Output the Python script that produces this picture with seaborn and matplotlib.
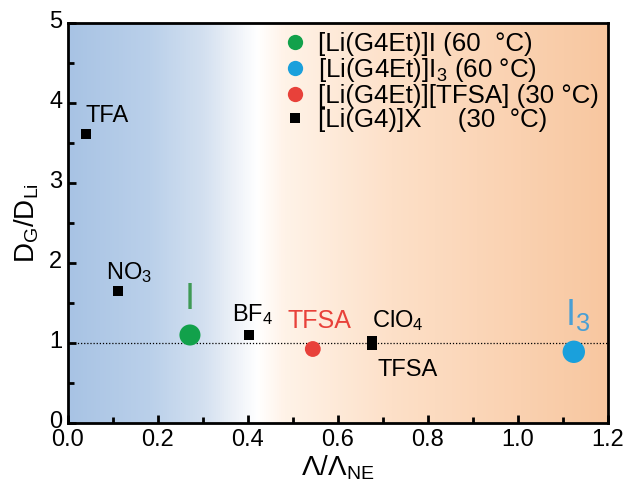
import numpy as np
import pandas as pd
import matplotlib
matplotlib.use("Agg")
import matplotlib.pyplot as plt
import matplotlib.transforms as mtransforms
from matplotlib.colors import LinearSegmentedColormap
from matplotlib.lines import Line2D
import seaborn as sns

# ---- data ----
g4_labels = ["TFA", "NO3", "BF4", "ClO4", "TFSA"]
g4_x = [0.040, 0.111, 0.402, 0.676, 0.676]
g4_y = [3.61, 1.65, 1.10, 1.02, 0.98]

g4et_i_x = [0.271]
g4et_i_y = [1.10]
g4et_i3_x = [1.124]
g4et_i3_y = [0.89]
g4et_tfsa_x = [0.544]
g4et_tfsa_y = [0.925]

legend_labels = ["[Li(G4Et)]I (60  °C)",
                 "[Li(G4Et)]I$_3$ (60 °C)",
                 "[Li(G4Et)][TFSA] (30 °C)",
                 "[Li(G4)]X     (30  °C)"]
xticks = [0.0, 0.2, 0.4, 0.6, 0.8, 1.0, 1.2]
yticks = [0, 1, 2, 3, 4, 5]

sns.set_theme(style="ticks")
plt.rcParams['font.family'] = ['Liberation Sans', 'DejaVu Sans']
plt.rcParams['mathtext.fontset'] = 'custom'
plt.rcParams['mathtext.rm'] = 'Liberation Sans'
plt.rcParams['mathtext.it'] = 'Liberation Sans:italic'
plt.rcParams['mathtext.default'] = 'regular'
plt.rcParams['text.color'] = 'black'
plt.rcParams['axes.labelcolor'] = 'black'
plt.rcParams['xtick.color'] = 'black'
plt.rcParams['ytick.color'] = 'black'

fig = plt.figure(figsize=(6.36, 4.88), dpi=100)
ax = fig.add_axes([68/636, 65/488, 540/636, 400/488])

# background gradient
cmap = LinearSegmentedColormap.from_list("bg", [
    (0.00, "#a8c3e4"), (0.15, "#bad0ea"), (0.25, "#d3e0f0"),
    (0.31, "#eef2f8"), (0.35, "#ffffff"), (0.40, "#fff3e8"),
    (0.60, "#fde0c8"), (1.00, "#f8c7a0")])
grad = np.linspace(0, 1, 512).reshape(1, -1)
ax.imshow(grad, extent=[0, 1.2, 0, 5], aspect='auto', cmap=cmap, zorder=0)

ax.axhline(1.0, color='black', lw=0.9, ls=(0, (1, 1.5)), zorder=1)

sns.scatterplot(x=g4et_i_x, y=g4et_i_y, ax=ax, color="#12a14b", s=230,
                marker='o', edgecolor='none', zorder=3)
sns.scatterplot(x=g4et_i3_x, y=g4et_i3_y, ax=ax, color="#1aa0dc", s=260,
                marker='o', edgecolor='none', zorder=3)
sns.scatterplot(x=g4et_tfsa_x, y=g4et_tfsa_y, ax=ax, color="#e8413a", s=130,
                marker='o', edgecolor='none', zorder=3)
sns.scatterplot(x=g4_x, y=g4_y, ax=ax, color="black", s=50,
                marker='s', edgecolor='none', zorder=3)

# annotations
fs = 17
ax.text(0.040, 3.70, "TFA", fontsize=fs, ha='left', va='bottom')
ax.text(0.085, 1.72, "NO$_3$", fontsize=fs, ha='left', va='bottom')
ax.text(0.365, 1.20, "BF$_4$", fontsize=fs, ha='left', va='bottom')
ax.text(0.675, 1.12, "ClO$_4$", fontsize=fs, ha='left', va='bottom')
ax.text(0.688, 0.52, "TFSA", fontsize=fs, ha='left', va='bottom')
ax.text(0.488, 1.12, "TFSA", fontsize=18, ha='left', va='bottom', color="#e8413a")
ax.text(0.271, 1.33, "I", fontsize=26, ha='center', va='bottom', color="#3f9a55")
ax.text(1.105, 1.13, "I$_3$", fontsize=26, ha='left', va='bottom', color="#4a9fd4")

ax.set_xlim(0, 1.2)
ax.set_ylim(0, 5)
ax.set_xticks(xticks)
ax.set_xticklabels([f"{t:.1f}" for t in xticks])
ax.set_yticks(yticks)
ax.set_yticklabels([str(t) for t in yticks])
ax.set_xticks(np.arange(0.1, 1.2, 0.2), minor=True)
ax.set_yticks(np.arange(0.5, 5, 1.0), minor=True)
ax.tick_params(which='major', direction='in', length=6, width=2, labelsize=17,
               pad=4, color='black', labelcolor='black')
ax.tick_params(which='minor', direction='in', length=4, width=2, color='black')
for sp in ax.spines.values():
    sp.set_linewidth(2)
    sp.set_color('black')

# y tick labels sit slightly above their ticks in the reference
offset = mtransforms.ScaledTranslation(0, 4/100, fig.dpi_scale_trans)
for lbl in ax.get_yticklabels():
    lbl.set_transform(lbl.get_transform() + offset)

ax.set_xlabel("Λ/Λ$_{\\mathregular{NE}}$", fontsize=20, labelpad=2)
ax.set_ylabel("D$_\\mathregular{G}$/D$_\\mathregular{Li}$", fontsize=20, labelpad=6)

handles = [
    Line2D([], [], ls='none', marker='o', color="#12a14b", markersize=11, markeredgewidth=0),
    Line2D([], [], ls='none', marker='o', color="#1aa0dc", markersize=11, markeredgewidth=0),
    Line2D([], [], ls='none', marker='o', color="#e8413a", markersize=11, markeredgewidth=0),
    Line2D([], [], ls='none', marker='s', color="black", markersize=7, markeredgewidth=0),
]
leg = ax.legend(handles, legend_labels, loc='upper right', frameon=False,
                fontsize=18.6, handletextpad=0.4, labelspacing=0.0,
                borderaxespad=0.05, borderpad=0.3, handlelength=1.0)

fig.savefig("out.png", dpi=100)
